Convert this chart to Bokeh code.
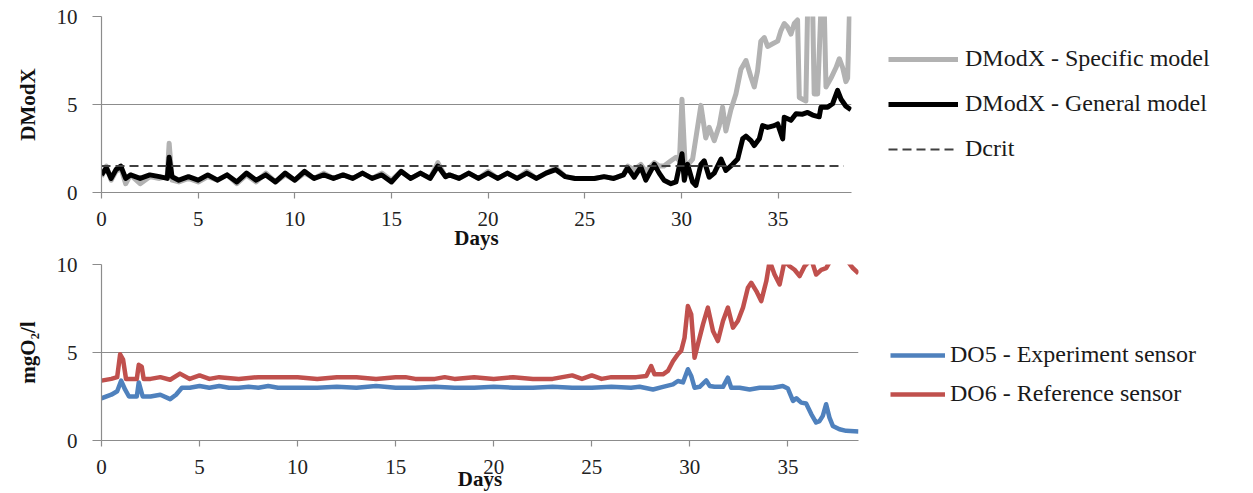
from bokeh.plotting import figure
from bokeh.layouts import column
from bokeh.models import Range1d, FixedTicker, Legend, LegendItem
from bokeh.embed import file_html
from bokeh.resources import INLINE

# ---------------- Top panel data (DModX) ----------------
general_days = [0.0, 0.25, 0.5, 0.75, 1.0, 1.25, 1.5, 2.0, 2.5, 3.0, 3.4, 3.5, 3.65, 4.0, 4.5,
                5.0, 5.5, 6.0, 6.5, 7.0, 7.5, 8.0, 8.5, 9.0, 9.5, 10.0, 10.5, 11.0, 11.5, 12.0,
                12.5, 13.0, 13.5, 14.0, 14.5, 15.0, 15.5, 16.0, 16.5, 17.0, 17.4, 17.8, 18.0,
                18.5, 19.0, 19.5, 20.0, 20.5, 21.0, 21.5, 22.0, 22.5, 23.0, 23.5, 24.0, 24.5,
                25.0, 25.5, 26.0, 26.5, 27.0, 27.22, 27.56, 27.9, 28.16, 28.6, 28.85, 29.1,
                29.46, 29.72, 30.03, 30.15, 30.32, 30.58, 30.75, 31.01, 31.18, 31.44, 31.7,
                32.05, 32.3, 32.65, 32.91, 33.17, 33.34, 33.6, 33.77, 34.03, 34.2, 34.46, 34.8,
                34.98, 35.24, 35.32, 35.67, 35.93, 36.27, 36.53, 36.79, 37.13, 37.22, 37.57,
                37.82, 38.08, 38.26, 38.51, 38.77]
general_model = [1.0, 1.4, 0.8, 1.3, 1.5, 0.8, 1.0, 0.8, 1.0, 0.9, 0.8, 2.0, 0.9, 0.7, 0.9,
                 0.7, 1.0, 0.7, 1.0, 0.6, 1.1, 0.7, 1.0, 0.6, 1.1, 0.7, 1.2, 0.8, 1.0, 0.8,
                 1.0, 0.8, 1.1, 0.8, 1.0, 0.6, 1.2, 0.8, 1.1, 0.8, 1.5, 0.9, 1.0,
                 0.8, 1.1, 0.8, 1.1, 0.8, 1.1, 0.8, 1.1, 0.8, 1.1, 1.3, 0.9, 0.8,
                 0.8, 0.8, 0.9, 0.8, 1.0, 1.4, 0.87, 1.45, 0.7, 1.6, 1.1, 0.7,
                 0.5, 0.6, 2.2, 0.7, 1.6, 0.6, 0.4, 1.6, 1.8, 0.87, 1.1,
                 1.9, 1.25, 1.6, 1.9, 3.05, 3.2, 2.95, 2.67, 3.05, 3.8, 3.7, 3.8,
                 3.9, 3.05, 4.28, 4.1, 4.47, 4.45, 4.55, 4.4, 4.3, 4.85, 4.85,
                 5.04, 5.8, 5.3, 4.9, 4.7]

specific_days = [0.0, 0.25, 0.5, 0.75, 1.0, 1.25, 1.5, 2.0, 2.5, 3.0, 3.4, 3.5, 3.65, 4.0, 4.5,
                 5.0, 5.5, 6.0, 6.5, 7.0, 7.5, 8.0, 8.5, 9.0, 9.5, 10.0, 10.5, 11.0, 11.5, 12.0,
                 12.5, 13.0, 13.5, 14.0, 14.5, 15.0, 15.5, 16.0, 16.5, 17.0, 17.4, 17.8, 18.0,
                 18.5, 19.0, 19.5, 20.0, 20.5, 21.0, 21.5, 22.0, 22.5, 23.0, 23.5, 24.0, 24.5,
                 25.0, 25.5, 26.0, 26.5, 27.0, 27.22, 27.56, 27.9, 28.16, 28.6, 28.85, 29.1,
                 29.46, 29.72, 29.9, 30.03, 30.2, 30.58, 31.01, 31.26, 31.44, 31.7, 31.96,
                 32.13, 32.3, 32.56, 32.82, 33.08, 33.34, 33.6, 33.77, 33.94, 34.11, 34.29,
                 34.46, 34.72, 34.98, 35.15, 35.32, 35.49, 35.67, 35.84, 36.01, 36.1, 36.27,
                 36.44, 36.53, 36.79, 36.87, 37.05, 37.22, 37.39, 37.48, 37.74, 38.0, 38.17,
                 38.34, 38.51, 38.6, 38.7]
specific_model = [0.9, 1.5, 0.7, 1.2, 1.4, 0.5, 1.0, 0.5, 0.9, 0.8, 0.9, 2.8, 0.7, 0.6, 0.8,
                  0.6, 0.9, 0.7, 1.0, 0.5, 1.0, 0.6, 1.1, 0.6, 1.0, 0.7, 1.1, 0.8, 1.1, 0.8,
                  1.0, 0.8, 1.1, 0.8, 1.1, 0.7, 1.2, 0.8, 1.1, 0.8, 1.7, 0.9, 1.0,
                  0.8, 1.1, 0.8, 1.2, 0.8, 1.1, 0.8, 1.2, 0.8, 1.1, 1.4, 0.9, 0.8,
                  0.8, 0.8, 0.9, 0.8, 1.0, 1.5, 1.3, 1.6, 1.2, 1.7, 1.5, 1.5,
                  1.8, 2.0, 1.8, 5.3, 1.4, 1.9, 4.95, 3.1, 3.7, 2.95, 3.8,
                  4.85, 3.5, 4.7, 5.6, 7.0, 7.5, 6.55, 6.0, 6.9, 8.6, 8.8,
                  8.3, 8.45, 8.6, 9.2, 9.6, 9.4, 9.0, 9.6, 9.8, 5.4, 5.3,
                  5.2, 10.5, 10.5, 5.6, 5.6, 10.5, 10.5, 6.0, 6.5, 7.1, 7.6,
                  7.1, 6.3, 6.5, 10.5]

dcrit_days = [0.0, 38.4]
dcrit = [1.5, 1.5]

# ---------------- Bottom panel data (dissolved oxygen) ----------------
do5_days = [0.0, 0.5, 0.8, 1.0, 1.2, 1.4, 1.8, 1.9, 2.1, 2.5, 3.0, 3.5, 3.8, 4.1, 4.5,
            5.0, 5.5, 6.0, 6.5, 7.0, 7.5, 8.0, 8.5, 9.0, 9.5, 10.0, 11.0, 12.0, 13.0, 14.0,
            15.0, 16.0, 17.0, 18.0, 19.0, 20.0, 21.0, 22.0, 23.0, 24.0, 25.0, 26.0, 27.0,
            27.44, 28.12, 28.63, 29.14, 29.39, 29.65, 29.9, 30.07, 30.24, 30.5, 30.84,
            31.01, 31.26, 31.69, 31.94, 32.11, 32.54, 33.05, 33.56, 34.24, 34.74, 35.0,
            35.26, 35.43, 35.68, 35.93, 36.19, 36.44, 36.61, 36.78, 36.95, 37.12, 37.29,
            37.63, 37.97, 38.6]
do5 = [2.4, 2.6, 2.8, 3.4, 2.9, 2.5, 2.5, 3.3, 2.5, 2.5, 2.6, 2.35, 2.6, 3.0, 3.0,
       3.1, 3.0, 3.1, 3.0, 3.0, 3.05, 3.0, 3.1, 3.0, 3.0, 3.0, 3.0, 3.05, 3.0, 3.1,
       3.0, 3.0, 3.05, 3.0, 3.0, 3.05, 3.0, 3.0, 3.05, 3.0, 3.0, 3.05, 3.0,
       3.05, 2.9, 3.05, 3.19, 3.38, 3.3, 4.05, 3.67, 3.0, 3.05, 3.41,
       3.1, 3.05, 3.05, 3.57, 3.0, 3.0, 2.9, 3.0, 3.0, 3.1, 2.95,
       2.25, 2.4, 2.15, 2.1, 1.5, 1.02, 1.1, 1.4, 2.06, 1.3, 0.83,
       0.64, 0.55, 0.51]

do6_days = [0.0, 0.5, 0.8, 0.95, 1.1, 1.25, 1.5, 1.8, 1.9, 2.05, 2.15, 2.5, 3.0, 3.5, 4.0,
            4.5, 5.0, 5.5, 6.0, 7.0, 8.0, 9.0, 10.0, 11.0, 12.0, 13.0, 14.0, 15.0, 15.5,
            16.0, 17.0, 17.5, 18.0, 19.0, 20.0, 21.0, 22.0, 23.0, 24.0, 24.5, 25.0, 25.5,
            26.0, 27.0, 27.27, 27.78, 28.03, 28.2, 28.63, 28.88, 29.14, 29.39, 29.56,
            29.73, 29.9, 30.07, 30.24, 30.41, 30.67, 30.92, 31.18, 31.43, 31.69, 31.94,
            32.2, 32.45, 32.71, 32.96, 33.13, 33.39, 33.64, 33.9, 34.07, 34.32, 34.58,
            34.83, 35.09, 35.34, 35.6, 35.85, 36.19, 36.44, 36.7, 36.95, 37.21, 37.97,
            38.31, 38.6]
do6 = [3.4, 3.5, 3.6, 4.9, 4.6, 3.5, 3.5, 3.5, 4.3, 4.2, 3.5, 3.5, 3.6, 3.45, 3.8,
       3.5, 3.7, 3.5, 3.6, 3.5, 3.6, 3.6, 3.6, 3.5, 3.6, 3.6, 3.5, 3.6, 3.6,
       3.5, 3.5, 3.6, 3.5, 3.6, 3.5, 3.6, 3.5, 3.5, 3.7, 3.5, 3.7, 3.5,
       3.6, 3.6, 3.6, 3.67, 4.23, 3.76, 3.76, 3.95, 4.5, 4.9, 5.1,
       5.84, 7.64, 7.17, 4.7, 5.46, 6.6, 7.55, 6.22, 5.65, 6.79, 7.55,
       6.41, 6.79, 7.55, 8.68, 8.96, 8.49, 7.92, 9.06, 10.2, 9.43, 8.87,
       10.2, 9.9, 9.7, 9.34, 9.9, 10.3, 9.43, 9.7, 9.8, 10.3, 10.3,
       9.8, 9.5]

x_ticks = [0, 5, 10, 15, 20, 25, 30, 35]
y_ticks = [0, 5, 10]

AXIS_GRAY = "#8c8c8c"
SERIF = "Liberation Serif"


def make_panel(frame_w, left, top, bottom, xmax, ylabel, x_standoff, xlabel_standoff):
    p = figure(frame_width=frame_w, frame_height=176,
               x_range=Range1d(0, xmax), y_range=Range1d(0, 10),
               output_backend="svg", toolbar_location=None,
               min_border_left=left, min_border_right=10,
               min_border_top=top, min_border_bottom=bottom)
    p.outline_line_color = None
    p.background_fill_color = "white"
    p.xgrid.visible = False
    p.ygrid.grid_line_color = AXIS_GRAY
    p.ygrid.grid_line_width = 1.2
    p.xaxis.ticker = FixedTicker(ticks=x_ticks)
    p.yaxis.ticker = FixedTicker(ticks=y_ticks)
    for ax in (p.xaxis[0], p.yaxis[0]):
        ax.axis_line_color = AXIS_GRAY
        ax.axis_line_width = 1.2
        ax.major_tick_line_color = AXIS_GRAY
        ax.major_tick_line_width = 1.2
        ax.minor_tick_line_color = None
        ax.major_tick_in = 0
        ax.major_label_text_font = SERIF
        ax.major_label_text_font_size = "21px"
        ax.major_label_text_color = "#222222"
        ax.axis_label_text_font = SERIF
        ax.axis_label_text_font_style = "bold"
        ax.axis_label_text_font_size = "21px"
        ax.axis_label_text_color = "#111111"
    p.xaxis.major_tick_out = 6
    p.xaxis.major_label_standoff = x_standoff
    p.xaxis.axis_label = "Days"
    p.xaxis.axis_label_standoff = xlabel_standoff
    p.yaxis.major_tick_out = 9
    p.yaxis.major_label_standoff = 15
    p.yaxis.axis_label = ylabel
    p.yaxis.axis_label_standoff = 14
    return p


def style_legend(items, loc, glyph_w, standoff, spacing):
    lg = Legend(items=items, location=loc)
    lg.label_text_font = SERIF
    lg.label_text_font_size = "24px"
    lg.label_text_color = "#1a1a1a"
    lg.glyph_width = glyph_w
    lg.glyph_height = 26
    lg.label_height = 26
    lg.spacing = spacing
    lg.padding = 0
    lg.margin = 0
    lg.label_standoff = standoff
    lg.border_line_color = None
    lg.background_fill_alpha = 0
    return lg


# ---- top panel ----
p1 = make_panel(750, 101, 16, 58, 38.8, "DModX", 13, -3)
r_spec = p1.line(specific_days, specific_model, line_color="#b2b2b2", line_width=5, line_join="round")
r_gen = p1.line(general_days, general_model, line_color="#000000", line_width=5, line_join="round")
r_dcrit = p1.line(dcrit_days, dcrit, line_color="#404040", line_width=2, line_dash="9 5")
lg1 = style_legend([
    LegendItem(label="DModX - Specific model", renderers=[r_spec]),
    LegendItem(label="DModX - General model", renderers=[r_gen]),
    LegendItem(label="Dcrit", renderers=[r_dcrit]),
], (37, 30), 70, 7, 18)
p1.add_layout(lg1, "right")

# ---- bottom panel ----
p2 = make_panel(757, 95, 12, 52, 38.6, "mgO\u2082/l", 13, -10)
r_do5 = p2.line(do5_days, do5, line_color="#4f81bd", line_width=4.5, line_join="round")
r_do6 = p2.line(do6_days, do6, line_color="#c0504d", line_width=4.5, line_join="round")
lg2 = style_legend([
    LegendItem(label="DO5 - Experiment sensor", renderers=[r_do5]),
    LegendItem(label="DO6 - Reference sensor", renderers=[r_do6]),
], (32, 33), 55, 5, 12)
p2.add_layout(lg2, "right")

layout = column(p1, p2, spacing=0)
open("out.html", "w").write(file_html(layout, INLINE))
